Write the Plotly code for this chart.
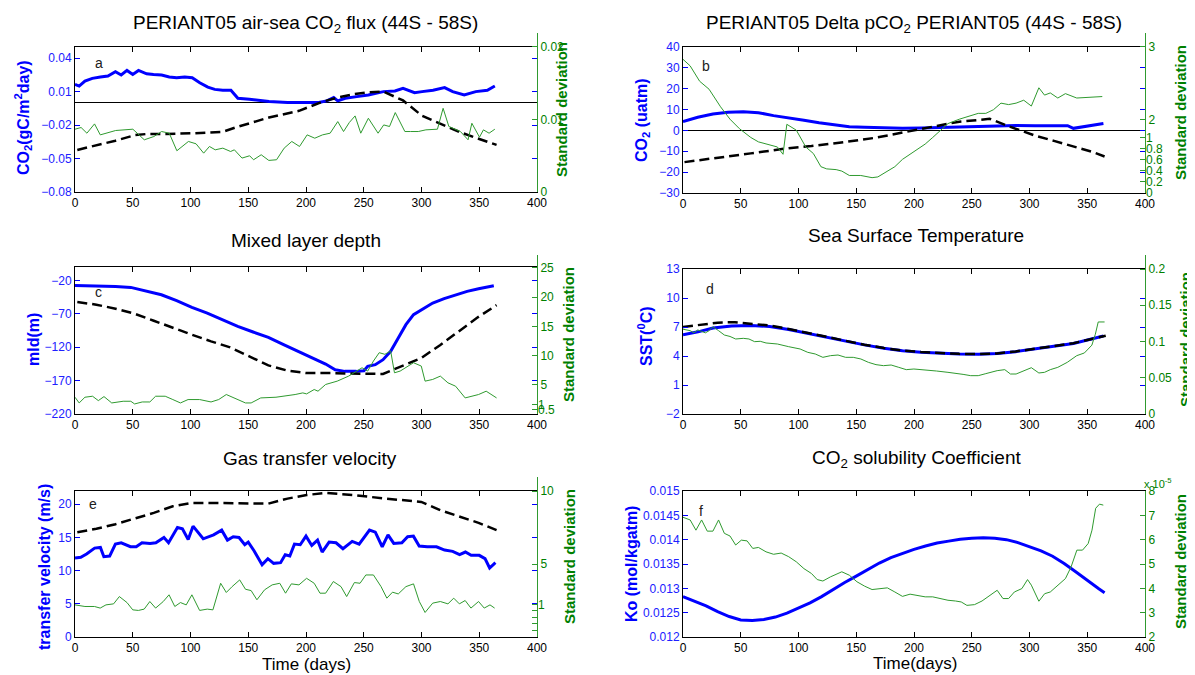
import plotly.graph_objects as go

# ------------------------------------------------------------------ data
days_ticks = [0, 50, 100, 150, 200, 250, 300, 350, 400]

# (a) air-sea CO2 flux
a_blue_x = [0, 3.6, 8.6, 15, 22, 28.5, 35, 40, 45, 50, 55, 62, 68, 75, 81.6, 88, 95, 101.5, 108, 115,
            121, 128, 135, 141, 151, 168, 184, 201, 211, 218, 224, 227.5, 234, 244, 254, 267, 277, 284,
            294, 300.5, 310, 320, 327, 337, 347, 357, 363.5]
a_blue_y = [0.0165, 0.0150, 0.0195, 0.0219, 0.0231, 0.024, 0.0278, 0.0249, 0.029, 0.0254, 0.029, 0.026,
            0.0254, 0.0249, 0.0231, 0.0225, 0.0231, 0.0225, 0.018, 0.014, 0.012, 0.0112, 0.0112, 0.004,
            0.0032, 0.0011, 0.0002, -0.0001, 0.0002, 0.0017, 0.0047, 0.0017, 0.004, 0.0055, 0.007, 0.01,
            0.0106, 0.013, 0.0091, 0.01, 0.0112, 0.0136, 0.01, 0.007, 0.01, 0.0112, 0.015]
a_black_x = [2, 18.6, 35, 52, 62, 75, 101.5, 128, 141, 168, 194, 214, 227.5, 241, 254, 267, 284, 300.5,
             317, 333.7, 350, 365]
a_black_y = [-0.0423, -0.0384, -0.034, -0.029, -0.028, -0.028, -0.0274, -0.026, -0.0215, -0.0132, -0.0072,
             0.0008, 0.0047, 0.0076, 0.0094, 0.01, 0.0021, -0.0117, -0.0191, -0.0265, -0.0325, -0.0378]
a_green_x = [0, 5.3, 10.3, 16.9, 21.9, 28.5, 35.2, 50.1, 60, 68.3, 75, 81.6, 88.2, 98.2, 104.8, 111.4,
             116.4, 121.4, 128, 134.7, 138, 144.6, 151.2, 154.6, 161.2, 167.8, 174.5, 181.1, 187.7, 194.4,
             201, 207.6, 214.3, 220.9, 227.5, 232.5, 237.5, 242.5, 247.4, 254, 262.4, 267.3, 272.3, 277.3,
             285.6, 290.5, 297.2, 303.8, 313.8, 318.7, 323.7, 333.7, 340.3, 343.6, 350.2, 353.6, 358.5, 363.5]
a_green_y = [0.00865, 0.00888, 0.0081, 0.00938, 0.00787, 0.00819, 0.00847, 0.00865, 0.00719, 0.00764,
             0.00833, 0.0081, 0.00568, 0.00696, 0.00664, 0.00535, 0.00627, 0.00581, 0.00604, 0.00558,
             0.00581, 0.00467, 0.00499, 0.00444, 0.00513, 0.00435, 0.00444, 0.00604, 0.00696, 0.00627,
             0.00787, 0.00741, 0.00787, 0.0081, 0.0097, 0.00833, 0.00957, 0.01048, 0.0081, 0.01016,
             0.0081, 0.00924, 0.00902, 0.01094, 0.00833, 0.00833, 0.00833, 0.00856, 0.00865, 0.01153,
             0.00902, 0.00833, 0.00719, 0.00947, 0.00755, 0.00856, 0.0081, 0.00865]
a_ticks = [-0.08, -0.05, -0.02, 0.01, 0.04]
a_green_ticks = [0, 0.01, 0.02]

# (b) Delta pCO2
b_blue_x = [0, 12.8, 25.9, 39, 52.2, 65.3, 78.4, 91.5, 104.7, 117.8, 130.9, 144, 157.2, 173.6, 190,
            206.4, 222.8, 239.2, 255.6, 272, 288.4, 304.8, 321.2, 333, 338, 345, 355, 364]
b_blue_y = [4.2, 6.3, 7.9, 8.7, 9.0, 8.5, 7.1, 6.1, 4.9, 3.7, 2.9, 1.8, 1.5, 1.2, 1.0, 1.2, 1.5, 1.8,
            2.1, 2.2, 2.4, 2.2, 2.2, 2.3, 1.0, 1.6, 2.6, 3.3]
b_black_x = [1.3, 25.9, 58.7, 91.5, 111.2, 140.8, 167, 190, 213, 222.8, 239.2, 255.6, 265.5, 281.9,
             304.8, 321.2, 337.7, 354, 365]
b_black_y = [-15.2, -13.5, -11, -8.5, -7.5, -5.5, -3.5, -1.0, 1.5, 2.6, 4.2, 5.0, 5.6, 2.0, -2.5, -5.0,
             -7.8, -10.2, -12.5]
b_green_x = [0, 6.2, 14.4, 22.6, 32.5, 40.7, 48.9, 58.7, 65.3, 71.9, 81.7, 86.6, 89.9, 98.1, 106.3, 112.9,
             119.4, 124.4, 132.6, 137.5, 144, 153.9, 158.8, 163.7, 168.7, 173.6, 183.4, 190, 199.8, 209.7,
             216.2, 222.8, 229.4, 239.2, 249.1, 255.6, 262.2, 268.8, 275.3, 281.9, 288.4, 295, 301.6, 308.1,
             313, 318, 324.5, 331.1, 340.9, 350.8, 363]
b_green_y = [2.83, 2.74, 2.53, 2.42, 2.18, 2.01, 1.88, 1.76, 1.70, 1.67, 1.63, 1.53, 1.94, 1.86, 1.63, 1.54,
             1.36, 1.33, 1.32, 1.30, 1.24, 1.24, 1.23, 1.21, 1.22, 1.27, 1.36, 1.46, 1.56, 1.67, 1.76, 1.86,
             1.95, 2.01, 2.06, 2.09, 2.09, 2.14, 2.23, 2.21, 2.23, 2.27, 2.19, 2.44, 2.34, 2.37, 2.30, 2.36,
             2.30, 2.31, 2.32]
b_ticks = [-30, -20, -10, 0, 10, 20, 30, 40]
b_green_ticks = [2, 3]
b_green_small_ticks = [0, 0.2, 0.4, 0.6, 0.8, 1]
b_green_small_text = ["0", "0.2", "0.4", "0.6", "0.8", "1"]

# (c) Mixed layer depth
c_blue_x = [0, 18.5, 35.1, 48.3, 61.5, 74.8, 88, 101.2, 114.5, 127.7, 140.9, 154.2, 167.4, 180.6, 193.9,
            207.1, 217, 225.3, 233.6, 243.5, 250.1, 253.4, 260, 266.7, 273.3, 279.9, 286.5, 293.1, 299.8,
            309.7, 319.6, 329.5, 339.5, 349.4, 359.3, 362.6]
c_blue_y = [-27.5, -28, -29, -30.5, -35.5, -41.5, -50.4, -60.4, -68.9, -78.9, -88.8, -97.3, -105.3, -116.3,
            -127.2, -137.2, -145.2, -153.7, -156.2, -156.2, -155.2, -148.7, -146.2, -138.7, -126.2, -106.3,
            -86.3, -71.4, -63.9, -53.9, -47.4, -41.4, -36.5, -32.5, -29.0, -28]
c_black_x = [2, 18.5, 35.1, 51.6, 68.2, 84.7, 101.2, 117.8, 134.3, 150.9, 167.4, 184, 200.5, 217, 233.6,
             250.1, 266.7, 283, 300, 316, 333, 349, 365]
c_black_y = [-52.4, -56.4, -62.4, -69.9, -80.4, -91.3, -101.3, -111.3, -120.3, -133.7, -147.2, -155.2,
             -158.7, -158.7, -158.7, -159.7, -160, -148, -136, -117, -95, -75, -57]
c_green_x = [0, 3.6, 8.6, 15.2, 20.2, 25.1, 31.8, 41.7, 48.3, 51.6, 58.2, 64.8, 69.8, 78.1, 84.7, 91.3, 97.9,
             107.9, 117.8, 124.4, 131, 140.9, 147.6, 152.5, 160.8, 174, 184, 190.6, 197.2, 200.5, 207.1,
             210.4, 217, 227, 236.9, 243.5, 248.5, 253.4, 258.4, 263.4, 268.3, 273.3, 276.6, 281.5, 286.5,
             293.1, 299.8, 303.1, 309.7, 316.3, 322.9, 329.5, 337.8, 349.4, 356, 365]
c_green_y = [2.87, 1.89, 2.87, 3.04, 2.29, 2.98, 1.89, 2.18, 2.18, 1.72, 2.06, 2.06, 3.04, 3.04, 2.47, 1.89,
             2.47, 2.47, 2.06, 2.47, 3.33, 2.47, 1.89, 1.89, 2.75, 2.87, 3.10, 3.33, 3.61, 3.44, 4.19, 3.90,
             5.05, 5.62, 6.48, 7.34, 7.91, 7.34, 9.06, 10.49, 10.21, 10.78, 7.05, 7.34, 7.91, 8.77, 8.2,
             5.62, 5.91, 6.48, 5.33, 4.76, 2.75, 3.33, 3.90, 2.75]
c_ticks = [-220, -170, -120, -70, -20]
c_green_ticks = [5, 10, 15, 20, 25]
c_green_small_ticks = [0.5, 1]
c_green_small_text = ["0.5", "1"]

# (d) Sea surface temperature
d_blue_x = [0, 13, 26, 42, 59, 75, 91.5, 108, 124, 141, 157, 174, 190, 206, 223, 239, 256, 272, 288, 305,
            321, 338, 354, 364]
d_blue_y = [6.2, 6.5, 6.9, 7.1, 7.15, 7.05, 6.75, 6.35, 5.95, 5.5, 5.15, 4.8, 4.55, 4.4, 4.28, 4.2, 4.18,
            4.25, 4.45, 4.7, 5.0, 5.3, 5.75, 6.07]
d_black_x = [0, 13, 30, 45, 60, 75, 91.5, 108, 124, 141, 157, 174, 190, 206, 223, 239, 256, 272, 288, 305,
             321, 338, 354, 366]
d_black_y = [7.0, 7.2, 7.45, 7.5, 7.35, 7.15, 6.8, 6.38, 5.97, 5.52, 5.17, 4.82, 4.57, 4.42, 4.3, 4.22,
             4.2, 4.27, 4.47, 4.72, 5.02, 5.32, 5.77, 6.1]
d_green_x = [0, 6.2, 9.5, 12.8, 16.1, 19.4, 22.6, 25.9, 30.8, 35.8, 40.7, 45.6, 52.2, 57.1, 62, 66.9, 71.9,
             81.7, 91.5, 101.4, 108, 114.5, 121.1, 127.7, 134.2, 140.8, 147.4, 154, 160.5, 167.1, 173.6,
             180.2, 186.8, 193.3, 199.9, 209.7, 219.6, 229.4, 236, 242.5, 249.1, 255.6, 262.2, 272, 278.6,
             283.5, 288.4, 295, 301.6, 308.1, 313, 318, 324.5, 332.7, 340.9, 347.5, 354, 357, 359.5, 365]
d_green_y = [0.117, 0.115, 0.112, 0.116, 0.114, 0.112, 0.115, 0.1205, 0.115, 0.109, 0.107, 0.1035, 0.1044,
             0.1035, 0.0998, 0.1003, 0.098, 0.0966, 0.0929, 0.0897, 0.0851, 0.0828, 0.0782, 0.0805, 0.0814,
             0.0782, 0.0782, 0.0759, 0.0713, 0.0681, 0.0667, 0.0676, 0.0644, 0.0612, 0.0621, 0.0612, 0.0593,
             0.0575, 0.0566, 0.0547, 0.0529, 0.0529, 0.0557, 0.0598, 0.0612, 0.0552, 0.0552, 0.0593, 0.0639,
             0.0566, 0.0575, 0.0612, 0.0644, 0.0713, 0.0805, 0.0842, 0.095, 0.11, 0.127, 0.127]
d_ticks = [-2, 1, 4, 7, 10, 13]
d_green_ticks = [0, 0.05, 0.1, 0.15, 0.2]
d_green_text = ["0", "0.05", "0.1", "0.15", "0.2"]

# (e) Gas transfer velocity
e_blue_x = [0, 5, 10, 17, 22, 25, 30, 35, 40, 48, 53, 58, 65, 70, 77, 81, 88.7, 93, 98, 102.2, 111, 120,
            127, 132, 137, 142, 147, 150, 155, 162, 167, 172, 178, 182, 186, 190, 195, 200, 205, 210, 214,
            220, 226, 232, 240, 246, 255, 260, 266, 271, 276, 283, 288, 293, 298, 305, 313, 320, 327, 333,
            338, 343, 350, 355, 359, 364]
e_blue_y = [11.9, 12.0, 12.5, 13.4, 13.5, 12.1, 12.2, 14.0, 14.2, 13.6, 13.6, 14.2, 14.1, 14.2, 15.0, 14.2,
            16.5, 16.3, 14.7, 16.7, 14.8, 15.4, 16.1, 14.6, 15.1, 15.0, 13.9, 14.3, 13.0, 10.9, 11.8, 11.1,
            11.2, 12.4, 12.2, 14.0, 13.9, 15.2, 13.8, 14.6, 12.8, 14.3, 14.2, 13.3, 14.4, 14.0, 16.1, 15.8,
            13.6, 15.4, 14.1, 14.2, 15.1, 15.2, 13.7, 13.6, 13.6, 13.1, 12.9, 12.4, 12.8, 12.3, 12.3, 11.8,
            10.4, 11.2]
e_black_x = [2, 18.5, 35.1, 51.6, 68.2, 84.7, 101.2, 117.8, 134.3, 150.9, 167.4, 184, 200.5, 217, 227,
             240.2, 266.7, 283.2, 299.8, 316.3, 332.8, 349.4, 365]
e_black_y = [15.8, 16.3, 17.0, 17.8, 18.7, 19.7, 20.2, 20.2, 20.2, 20.1, 20.1, 20.85, 21.4, 21.7, 21.6,
             21.4, 20.9, 20.6, 20.35, 19.1, 18.2, 17.2, 16.1]
e_green_x = [0, 8.6, 16.9, 21.8, 26.8, 33.4, 38.4, 45, 50, 54.9, 59.9, 64.8, 69.8, 76.4, 81.4, 86.4, 91.3,
             96.3, 101.2, 107.9, 114.5, 119.4, 126.1, 131, 136, 142.6, 147.6, 152.5, 157.5, 164.1, 170.7,
             177.3, 182.3, 187.3, 193.9, 200.5, 207.1, 212.1, 217, 223.7, 230.3, 235.2, 241.9, 246.8, 251.8,
             258.4, 265, 270, 274.9, 279.9, 286.5, 293.1, 298.1, 303.1, 309.7, 316.3, 322.9, 327.9, 332.8,
             337.8, 342.8, 349.4, 354.3, 359.3, 363.3]
e_green_y = [2.2, 2.09, 2.09, 1.98, 2.2, 2.27, 2.77, 2.36, 1.86, 1.82, 1.91, 2.43, 1.98, 2.43, 2.89, 2.09,
             2.36, 2.2, 2.89, 1.82, 1.91, 1.86, 3.68, 3.05, 3.45, 3.91, 3.27, 3.18, 2.55, 3.23, 3.57, 3.68,
             3.0, 3.64, 3.57, 4.02, 3.68, 3.0, 3.0, 3.8, 3.45, 2.77, 3.73, 3.68, 4.25, 4.25, 3.45, 2.66, 3.07,
             2.95, 3.45, 3.64, 2.43, 1.68, 2.32, 2.43, 2.27, 2.66, 2.27, 2.5, 1.98, 2.43, 1.98, 2.2, 1.98]
e_ticks = [0, 5, 10, 15, 20]
e_green_ticks = [5, 10]
e_green_small_ticks = [1]
e_green_small_text = ["1"]
e_green_minor_ticks = [0, 0.2, 0.4, 0.6, 0.8]

# (f) CO2 solubility coefficient
f_blue_x = [0, 10, 20, 30, 40, 50, 60, 70, 80, 90, 100, 110, 120, 130, 140, 150, 160, 170, 180, 190, 200,
            210, 220, 230, 240, 250, 260, 270, 280, 290, 300, 310, 320, 330, 340, 350, 360, 365]
f_blue_y = [0.01283, 0.01274, 0.01264, 0.01252, 0.01242, 0.01235, 0.01234, 0.01236, 0.01241, 0.01249,
            0.01259, 0.01270, 0.01283, 0.01298, 0.01312, 0.01325, 0.01339, 0.01352, 0.01363, 0.01372,
            0.01380, 0.01387, 0.01393, 0.01397, 0.01401, 0.01403, 0.01404, 0.01403, 0.01400, 0.01394,
            0.01386, 0.01377, 0.01366, 0.01351, 0.01334, 0.01316, 0.01299, 0.01291]
f_green_x = [0, 6.2, 11.2, 16.1, 21, 25.9, 30.8, 35.8, 40.7, 45.6, 50.5, 55.5, 60.4, 65.3, 71.9, 78.4, 85,
             91.5, 98.1, 104.7, 111.2, 116.2, 121.1, 127.6, 137.5, 144, 150.6, 157.2, 163.7, 170.3, 176.9,
             183.4, 190, 196.6, 203.1, 209.7, 216.2, 222.8, 229.4, 235.9, 240.9, 245.8, 252.4, 258.9, 265.5,
             272, 277, 281.9, 286.9, 293.4, 298.3, 301.6, 308.1, 313.1, 318, 324.5, 331.1, 336, 341, 345.9,
             350.8, 354.1, 357.3, 360.6, 363.9]
f_green_y = [6.92, 6.81, 6.39, 6.81, 6.35, 6.35, 6.81, 6.26, 6.15, 5.78, 5.98, 5.95, 5.64, 5.68, 5.5, 5.4,
             5.45, 5.3, 5.09, 4.81, 4.61, 4.36, 4.3, 4.47, 4.68, 4.54, 4.27, 4.09, 3.95, 3.99, 4.02, 3.85,
             3.67, 3.76, 3.72, 3.65, 3.65, 3.58, 3.51, 3.48, 3.44, 3.3, 3.33, 3.48, 3.72, 3.92, 3.58, 3.58,
             3.85, 3.99, 4.36, 4.13, 3.47, 3.78, 3.85, 4.13, 4.4, 4.88, 5.57, 5.57, 5.84, 6.39, 7.29, 7.46,
             7.42]
f_ticks = [0.012, 0.0125, 0.013, 0.0135, 0.014, 0.0145, 0.015]
f_tick_text = ["0.012", "0.0125", "0.013", "0.0135", "0.014", "0.0145", "0.015"]
f_green_ticks = [2, 3, 4, 5, 6, 7, 8]

# ------------------------------------------------------------------ style / layout
PAGE_W, PAGE_H = 1195, 675
PAD = 8                      # default page margin around the plot div
W, H = PAGE_W - PAD, PAGE_H - PAD
FONT = "Liberation Sans, Arial, Helvetica, sans-serif"
BLUE = "#0000ff"
BLUE_TXT = "#2020ff"
GREEN_LINE = "#2f9a2f"
GREEN_TXT = "#008000"


def fx(p):
    return (p - PAD) / W


def fy(p):
    return 1 - (p - PAD) / H


def aname(kind, n):
    return f"{kind}axis" if n == 1 else f"{kind}axis{n}"


def aref(kind, n):
    return kind if n == 1 else f"{kind}{n}"


LEFT_X = (75, 537)
RIGHT_X = (683, 1145)

panels = [
    dict(n=1, xpx=LEFT_X, box=(47, 192), gtop=33, yr=[-0.08, 0.05], yt=a_ticks, ytt=None,
         gr=[0, 0.0219], gt=a_green_ticks, gtt=["0", "0.01", "0.02"], zero=True,
         blue=(a_blue_x, a_blue_y), black=(a_black_x, a_black_y), green=(a_green_x, a_green_y),
         small=[]),
    dict(n=2, xpx=RIGHT_X, box=(47, 193), gtop=33, yr=[-30, 40], yt=b_ticks, ytt=None,
         gr=[1.0, 3.19], gt=b_green_ticks, gtt=None, zero=True,
         blue=(b_blue_x, b_blue_y), black=(b_black_x, b_black_y), green=(b_green_x, b_green_y),
         small=[dict(r=[0, 2.89], t=b_green_small_ticks, tt=b_green_small_text)]),
    dict(n=3, xpx=LEFT_X, box=(267, 414), gtop=255, yr=[-220, 0], yt=c_ticks, ytt=None,
         gr=[0, 27.2], gt=c_green_ticks, gtt=None, zero=False,
         blue=(c_blue_x, c_blue_y), black=(c_black_x, c_black_y), green=(c_green_x, c_green_y),
         small=[dict(r=[0, 17.1], t=c_green_small_ticks, tt=c_green_small_text)]),
    dict(n=4, xpx=RIGHT_X, box=(269, 414), gtop=255, yr=[-2, 13], yt=d_ticks, ytt=None,
         gr=[0, 0.2194], gt=d_green_ticks, gtt=d_green_text, zero=False,
         blue=(d_blue_x, d_blue_y), black=(d_black_x, d_black_y), green=(d_green_x, d_green_y),
         small=[]),
    dict(n=5, xpx=LEFT_X, box=(491, 637), gtop=477, yr=[0, 22], yt=e_ticks, ytt=None,
         gr=[0, 10.96], gt=e_green_ticks, gtt=None, zero=False,
         blue=(e_blue_x, e_blue_y), black=(e_black_x, e_black_y), green=(e_green_x, e_green_y),
         small=[dict(r=[0, 4.9], t=e_green_small_ticks, tt=e_green_small_text),
                dict(r=[0, 4.9], t=e_green_minor_ticks, tt=None)]),
    dict(n=6, xpx=RIGHT_X, box=(491, 637), gtop=491, yr=[0.012, 0.015], yt=f_ticks, ytt=f_tick_text,
         gr=[2, 8], gt=f_green_ticks, gtt=None, zero=False,
         blue=(f_blue_x, f_blue_y), black=None, green=(f_green_x, f_green_y),
         small=[]),
]

fig = go.Figure()
layout = {}
tickfont_blue = dict(family=FONT, size=12, color=BLUE_TXT)
tickfont_green = dict(family=FONT, size=12, color=GREEN_TXT)
tickfont_black = dict(family=FONT, size=12, color="black")

extra = 13
for p in panels:
    n = p["n"]
    g = n + 6
    x0, x1 = fx(p["xpx"][0]), fx(p["xpx"][1])
    ytop, ybot = p["box"]
    # main (blue) axes
    layout[aname("x", n)] = dict(domain=[x0, x1], range=[0, 400], anchor=aref("y", n),
                                 tickvals=days_ticks, ticks="inside", ticklen=5, tickcolor="black",
                                 showline=True, linecolor="black", linewidth=1, mirror="ticks",
                                 showgrid=False, zeroline=False, tickfont=tickfont_black,
                                 automargin=False)
    ya = dict(domain=[fy(ybot), fy(ytop)], range=p["yr"], anchor=aref("x", n),
              tickvals=p["yt"], ticks="inside", ticklen=5, tickcolor=BLUE,
              showline=True, linecolor="black", linewidth=1, mirror="ticks",
              showgrid=False, zeroline=p["zero"], zerolinecolor="black", zerolinewidth=1,
              tickfont=tickfont_blue, automargin=False)
    if p["ytt"]:
        ya["ticktext"] = p["ytt"]
    layout[aname("y", n)] = ya
    # green (std) axes
    layout[aname("x", g)] = dict(domain=[x0, x1], range=[0, 400], anchor=aref("y", g), visible=False,
                                 automargin=False)
    gya = dict(domain=[fy(ybot), fy(p["gtop"])], range=p["gr"], anchor=aref("x", g), side="right",
               tickvals=p["gt"], ticks="inside", ticklen=5, tickcolor=GREEN_LINE,
               showline=True, linecolor=GREEN_LINE, linewidth=1,
               showgrid=False, zeroline=False, tickfont=tickfont_green, automargin=False)
    if p["gtt"]:
        gya["ticktext"] = p["gtt"]
    layout[aname("y", g)] = gya
    for s_ax in p["small"]:
        s = extra
        extra += 1
        sa = dict(overlaying=aref("y", g), anchor=aref("x", g), side="right",
                  range=s_ax["r"], tickvals=s_ax["t"], ticks="inside", ticklen=5,
                  tickcolor=GREEN_LINE, showline=False, showgrid=False,
                  zeroline=False, tickfont=tickfont_green, automargin=False)
        if s_ax["tt"] is None:
            sa["showticklabels"] = False
        else:
            sa["ticktext"] = s_ax["tt"]
        layout[aname("y", s)] = sa
        fig.add_trace(go.Scatter(x=[], y=[], xaxis=aref("x", g), yaxis=aref("y", s),
                                 showlegend=False, hoverinfo="skip"))
    # traces
    gx, gy = p["green"]
    fig.add_trace(go.Scatter(x=gx, y=gy, mode="lines", line=dict(color=GREEN_LINE, width=1),
                             xaxis=aref("x", g), yaxis=aref("y", g), showlegend=False))
    bx, by = p["blue"]
    fig.add_trace(go.Scatter(x=bx, y=by, mode="lines", line=dict(color=BLUE, width=3),
                             xaxis=aref("x", n), yaxis=aref("y", n), showlegend=False))
    if p["black"]:
        kx, ky = p["black"]
        fig.add_trace(go.Scatter(x=kx, y=ky, mode="lines",
                                 line=dict(color="black", width=2.5, dash="10px,5px"),
                                 xaxis=aref("x", n), yaxis=aref("y", n), showlegend=False))

annotations = []


def ann(text, xpx, ypx, size, color="black", bold=False, angle=0, xanchor="center", yanchor="middle"):
    if bold:
        text = f"<b>{text}</b>"
    annotations.append(dict(text=text, x=fx(xpx), y=fy(ypx), xref="paper", yref="paper",
                            showarrow=False, textangle=angle, xanchor=xanchor, yanchor=yanchor,
                            font=dict(family=FONT, size=size, color=color)))


# titles
ann("PERIANT05 air-sea CO<sub>2</sub> flux (44S - 58S)", 306, 24, 19)
ann("PERIANT05 Delta pCO<sub>2</sub> PERIANT05 (44S - 58S)", 914, 24, 19)
ann("Mixed layer depth", 306, 241, 19)
ann("Sea Surface Temperature", 916, 235, 19)
ann("Gas transfer velocity", 310, 458, 19)
ann("CO<sub>2</sub> solubility Coefficient", 916, 459, 19)

# left axis titles
ann("CO<sub>2</sub>(gC/m<sup>2</sup>day)", 23, 118, 16, BLUE, True, -90)
ann("CO<sub>2</sub> (uatm)", 643, 120, 16, BLUE, True, -90)
ann("mld(m)", 33, 340, 16, BLUE, True, -90)
ann("SST(<sup>0</sup>C)", 645, 336, 16, BLUE, True, -90)
ann("transfer velocity (m/s)", 44, 567, 16, BLUE, True, -90)
ann("Ko (mol/kgatm)", 631, 564, 16, BLUE, True, -90)

# right axis titles
for xr, yr in [(561, 110), (1180, 113), (568, 335), (1185, 340), (569, 557), (1180, 562)]:
    ann("Standard deviation", xr, yr, 15, GREEN_TXT, True, -90)

# x titles
ann("Time (days)", 307, 664, 17)
ann("Time(days)", 915, 663, 17)

# exponent label
ann("x 10<sup>-5</sup>", 1142, 483, 11, GREEN_TXT, xanchor="left")

# panel letters (data coordinates)
letters = [("a", 1, 21, 0.036), ("b", 2, 20, 30.8), ("c", 3, 20, -38), ("d", 4, 23, 10.9),
           ("e", 5, 16, 20), ("f", 6, 16, 0.01459)]
for t, n, lx, ly in letters:
    annotations.append(dict(text=t, x=lx, y=ly, xref=aref("x", n), yref=aref("y", n), showarrow=False,
                            font=dict(family=FONT, size=14, color="#202020")))

fig.update_layout(**layout)
fig.update_layout(template="none", width=W, height=H, autosize=False, margin=dict(l=0, r=0, t=0, b=0),
                  paper_bgcolor="white", plot_bgcolor="rgba(0,0,0,0)", showlegend=False,
                  annotations=annotations, font=dict(family=FONT, color="black"))

fig.write_html("out.html")
